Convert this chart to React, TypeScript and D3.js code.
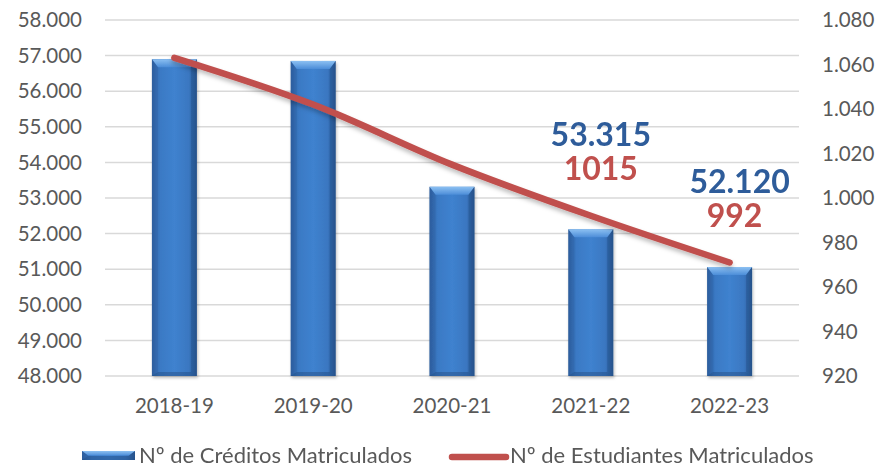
import React from "react";
import * as d3 from "d3";

const categories = ["2018-19", "2019-20", "2020-21", "2021-22", "2022-23"];
const creditos = [56900, 56850, 53315, 52120, 51060];
const estudiantes = [1063, 1042, 1015, 992, 971];
const leftTicks = [48000, 49000, 50000, 51000, 52000, 53000, 54000, 55000, 56000, 57000, 58000];
const rightTicks = [920, 940, 960, 980, 1000, 1020, 1040, 1060, 1080];
const annotCats = ["2021-22", "2022-23"];
const annotCreditos = ["53.315", "52.120"];
const annotEstudiantes = ["1015", "992"];
const legendLabels = ["Nº de Créditos Matriculados", "Nº de Estudiantes Matriculados"];

const W = 879;
const H = 470;
const FONT = "Lato, 'Open Sans', sans-serif";
const TXT = "#595959";
const RED = "#C0504D";
const BLUE_TXT = "#2E5C9A";

const fmt = (v: number) => d3.format(",")(v).replace(/,/g, ".");

export default function App() {
  const x = d3.scaleBand<string>().domain(categories).range([105, 799]).paddingInner(0.676).paddingOuter(0.338);
  const yL = d3.scaleLinear().domain([48000, 58000]).range([376, 20]);
  const yR = d3.scaleLinear().domain([920, 1080]).range([376, 20]);
  const cx = (c: string) => (x(c) as number) + x.bandwidth() / 2;

  const line = d3
    .line<number>()
    .x((_, i) => cx(categories[i]))
    .y((d) => yR(d))
    .curve(d3.curveCatmullRom.alpha(0.5));

  const bw = x.bandwidth();

  const bar = (x0: number, y0: number, w: number, h: number, key: string) => {
    const b = Math.min(8, h / 2);
    const s = 6;
    return (
      <g key={key}>
        <rect x={x0} y={y0} width={w} height={h} fill="url(#barGrad)" />
        <polygon
          points={`${x0},${y0} ${x0 + w},${y0} ${x0 + w - s},${y0 + b} ${x0 + s},${y0 + b}`}
          fill="url(#bevelTop)"
        />
        <polygon
          points={`${x0},${y0} ${x0 + s},${y0 + b} ${x0 + s},${y0 + h - 4} ${x0},${y0 + h}`}
          fill="#2F62A6"
          opacity={0.35}
        />
        <polygon
          points={`${x0 + w},${y0} ${x0 + w - s},${y0 + b} ${x0 + w - s},${y0 + h - 4} ${x0 + w},${y0 + h}`}
          fill="#1F4A82"
          opacity={0.35}
        />
        <polygon
          points={`${x0},${y0 + h} ${x0 + s},${y0 + h - 4} ${x0 + w - s},${y0 + h - 4} ${x0 + w},${y0 + h}`}
          fill="#244F88"
          opacity={0.5}
        />
      </g>
    );
  };

  return (
    <svg width={W} height={H} style={{ position: "absolute", left: 0, top: 0, background: "#fff" }} fontFamily={FONT}>
      <defs>
        <linearGradient id="barGrad" x1="0" x2="1" y1="0" y2="0">
          <stop offset="0" stopColor="#2C5B98" />
          <stop offset="0.18" stopColor="#3A79C4" />
          <stop offset="0.5" stopColor="#3F82CF" />
          <stop offset="0.82" stopColor="#3A77C1" />
          <stop offset="1" stopColor="#2A5690" />
        </linearGradient>
        <linearGradient id="bevelTop" x1="0" x2="0" y1="0" y2="1">
          <stop offset="0" stopColor="#8CC0F2" />
          <stop offset="1" stopColor="#4C8DD8" />
        </linearGradient>
        <filter id="shadow" x="-20%" y="-20%" width="140%" height="140%">
          <feDropShadow dx="1" dy="2" stdDeviation="1.5" floodColor="#000" floodOpacity="0.25" />
        </filter>
        <filter id="lshadow" x="-10%" y="-20%" width="120%" height="140%">
          <feDropShadow dx="0" dy="3" stdDeviation="2" floodColor="#000" floodOpacity="0.25" />
        </filter>
      </defs>

      {leftTicks.map((t) => (
        <line key={"g" + t} x1={105} x2={799} y1={yL(t)} y2={yL(t)} stroke="#D9D9D9" strokeWidth={1.5} />
      ))}

      {leftTicks.map((t) => (
        <text key={"l" + t} x={82} y={yL(t)} dy="0.35em" textAnchor="end" fontSize={20.5} fill={TXT}>
          {fmt(t)}
        </text>
      ))}
      {rightTicks.map((t) => (
        <text key={"r" + t} x={822} y={yR(t)} dy="0.35em" textAnchor="start" fontSize={20.5} fill={TXT}>
          {fmt(t)}
        </text>
      ))}

      <g filter="url(#shadow)">
        {creditos.map((v, i) => bar(x(categories[i]) as number, yL(v), bw, yL(48000) - yL(v), "b" + i))}
      </g>

      {categories.map((c) => (
        <text key={"x" + c} x={cx(c)} y={413} textAnchor="middle" fontSize={20.5} fill={TXT}>
          {c}
        </text>
      ))}

      <path
        d={line(estudiantes) || ""}
        fill="none"
        stroke={RED}
        strokeWidth={6.5}
        strokeLinecap="round"
        strokeLinejoin="round"
        filter="url(#lshadow)"
      />

      {annotCats.map((c, i) => {
        const idx = categories.indexOf(c);
        const py = yR(estudiantes[idx]);
        return (
          <g key={"a" + c}>
            <text x={cx(c) + 10} y={py - 70} textAnchor="middle" fontSize={32} fontWeight="bold" fill={BLUE_TXT}>
              {annotCreditos[i]}
            </text>
            <text x={cx(c) + 10 - i * 5} y={py - 36} textAnchor="middle" fontSize={32} fontWeight="bold" fill={RED}>
              {annotEstudiantes[i]}
            </text>
          </g>
        );
      })}

      <g>
        {bar(82, 451, 53, 9, "legbar")}
        <text x={139} y={463} fontSize={22} fill={TXT}>
          {legendLabels[0]}
        </text>
        <line x1={452} x2={506} y1={457} y2={457} stroke={RED} strokeWidth={6.5} strokeLinecap="round" />
        <text x={510} y={463} fontSize={22} fill={TXT}>
          {legendLabels[1]}
        </text>
      </g>
    </svg>
  );
}
